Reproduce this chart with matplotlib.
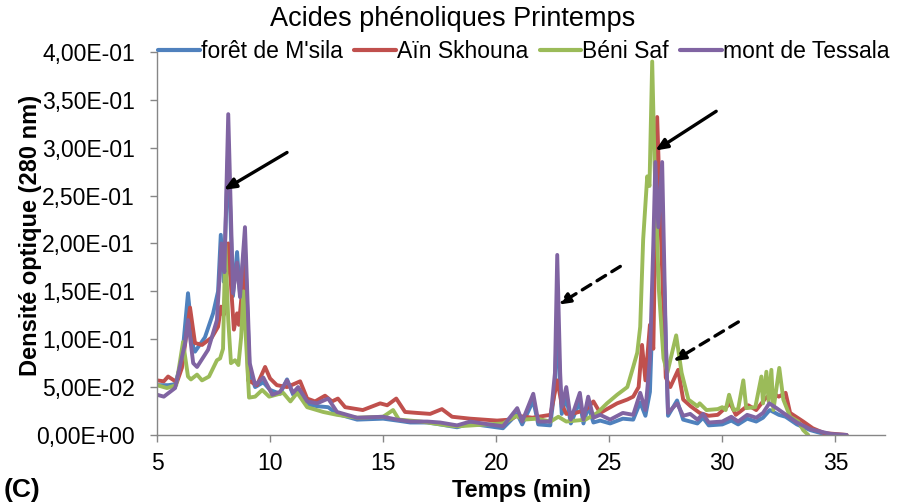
import matplotlib
matplotlib.use("Agg")
import matplotlib.pyplot as plt
from matplotlib.ticker import FuncFormatter

plt.rcParams['font.family'] = ['Liberation Sans', 'DejaVu Sans']

# Chromatogram traces (time in min, optical density at 280 nm)
t_msila = [5.0, 5.5, 5.8, 6.1, 6.37, 6.6, 6.68, 7.12, 7.48, 7.7, 7.82, 7.95, 8.15, 8.36, 8.54,
           8.67, 8.88, 9.1, 9.34, 9.7, 10.0, 10.44, 10.75, 11.02, 11.24, 11.64, 12.08, 12.57,
           12.96, 13.85, 15.0, 15.62, 16.2, 16.95, 17.52, 18.27, 18.85, 19.4, 20.3, 20.93, 21.15,
           21.64, 21.86, 22.39, 22.6, 22.7, 22.83, 22.9, 23.1, 23.3, 23.7, 23.86, 24.07, 24.3,
           24.6, 25.04, 25.6, 26.06, 26.37, 26.6, 26.8, 26.95, 27.2, 27.4, 27.6, 28.0, 28.27,
           28.9, 29.15, 29.4, 30.0, 30.4, 30.7, 31.1, 31.5, 31.8, 32.1, 32.5, 32.8, 33.3, 33.9,
           34.5, 35.0]
d_msila = [0.052, 0.052, 0.053, 0.078, 0.148, 0.092, 0.087, 0.102, 0.127, 0.15, 0.209, 0.16,
           0.30, 0.145, 0.191, 0.148, 0.20, 0.065, 0.05, 0.055, 0.047, 0.043, 0.058, 0.042, 0.047,
           0.032, 0.03, 0.029, 0.022, 0.016, 0.017, 0.015, 0.013, 0.013, 0.011, 0.008, 0.012,
           0.01, 0.007, 0.022, 0.011, 0.036, 0.011, 0.01, 0.05, 0.13, 0.05, 0.022, 0.04, 0.012,
           0.035, 0.012, 0.03, 0.013, 0.015, 0.012, 0.017, 0.016, 0.034, 0.02, 0.045, 0.15,
           0.245, 0.18, 0.02, 0.036, 0.016, 0.012, 0.018, 0.01, 0.011, 0.015, 0.011, 0.017,
           0.014, 0.018, 0.026, 0.021, 0.019, 0.011, 0.005, 0.001, 0.0]

t_skhouna = [5.0, 5.3, 5.49, 5.88, 6.1, 6.46, 6.68, 6.99, 7.43, 7.7, 7.83, 7.95, 8.15, 8.4, 8.54,
             8.62, 8.88, 9.03, 9.42, 9.78, 10.0, 10.3, 10.75, 11.33, 11.64, 11.99, 12.43, 12.74,
             13.0, 13.32, 14.1, 14.87, 15.18, 15.58, 15.97, 16.5, 17.08, 17.6, 18.05, 18.85,
             20.04, 20.6, 20.93, 21.6, 22.4, 22.7, 22.9, 23.1, 23.5, 23.95, 24.3, 24.6, 25.35,
             25.8, 26.06, 26.3, 26.45, 26.6, 26.8, 26.95, 27.12, 27.3, 27.5, 27.7, 28.05, 28.27,
             28.6, 29.0, 29.4, 29.8, 30.35, 30.6, 31.15, 31.5, 31.9, 32.2, 32.5, 32.8, 33.0,
             33.58, 34.0, 34.5, 35.5]
d_skhouna = [0.057, 0.056, 0.061, 0.055, 0.07, 0.133, 0.096, 0.094, 0.102, 0.113, 0.134, 0.125,
             0.2, 0.11, 0.127, 0.115, 0.18, 0.057, 0.052, 0.071, 0.059, 0.052, 0.05, 0.056,
             0.038, 0.035, 0.041, 0.035, 0.038, 0.029, 0.026, 0.033, 0.031, 0.038, 0.024, 0.023,
             0.022, 0.027, 0.019, 0.017, 0.015, 0.016, 0.02, 0.018, 0.021, 0.057, 0.032, 0.022,
             0.023, 0.026, 0.035, 0.023, 0.033, 0.037, 0.04, 0.05, 0.094, 0.057, 0.115, 0.09,
             0.332, 0.2, 0.06, 0.05, 0.068, 0.037, 0.03, 0.023, 0.02, 0.021, 0.033, 0.021, 0.031,
             0.026, 0.038, 0.044, 0.04, 0.044, 0.023, 0.014, 0.007, 0.002, 0.0]

t_benisaf = [5.0, 5.44, 5.85, 6.15, 6.37, 6.5, 6.77, 6.99, 7.3, 7.65, 7.79, 7.92, 8.02, 8.15,
             8.27, 8.45, 8.6, 8.72, 8.82, 9.07, 9.34, 9.65, 9.96, 10.58, 10.9, 11.2, 11.64,
             12.35, 12.96, 13.85, 15.0, 15.44, 15.7, 16.67, 17.83, 18.27, 19.6, 20.3, 20.9, 21.2,
             21.8, 22.4, 22.75, 23.1, 23.95, 24.47, 24.9, 25.35, 25.8, 26.06, 26.24, 26.37, 26.5,
             26.68, 26.78, 26.9, 27.0, 27.2, 27.4, 27.57, 27.96, 28.2, 28.5, 28.9, 29.0, 29.3,
             29.8, 30.0, 30.15, 30.3, 30.5, 30.7, 30.93, 31.06, 31.46, 31.73, 31.8, 31.95, 32.05,
             32.17, 32.26, 32.52, 32.7, 33.0, 33.36, 33.58, 33.8]
d_benisaf = [0.052, 0.049, 0.052, 0.097, 0.061, 0.058, 0.063, 0.057, 0.061, 0.078, 0.08, 0.09,
             0.2, 0.12, 0.075, 0.078, 0.073, 0.102, 0.15, 0.039, 0.04, 0.047, 0.04, 0.044, 0.035,
             0.044, 0.029, 0.024, 0.021, 0.018, 0.019, 0.026, 0.016, 0.014, 0.01, 0.009, 0.011,
             0.012, 0.02, 0.016, 0.017, 0.014, 0.019, 0.014, 0.016, 0.023, 0.033, 0.042, 0.05,
             0.071, 0.086, 0.113, 0.204, 0.27, 0.26, 0.39, 0.287, 0.15, 0.08, 0.065, 0.104, 0.065,
             0.037, 0.03, 0.033, 0.026, 0.027, 0.029, 0.026, 0.042, 0.026, 0.027, 0.057, 0.028,
             0.029, 0.061, 0.033, 0.066, 0.035, 0.068, 0.026, 0.07, 0.037, 0.019, 0.014, 0.005,
             0.0]

t_tessala = [5.0, 5.3, 5.8, 6.24, 6.37, 6.6, 6.77, 7.26, 7.65, 7.85, 7.98, 8.15, 8.36, 8.54,
             8.67, 8.89, 9.1, 9.34, 9.7, 10.1, 10.44, 10.75, 11.02, 11.24, 11.64, 12.08, 12.57,
             12.96, 13.85, 15.0, 15.62, 16.2, 16.95, 17.52, 18.27, 18.85, 19.4, 20.3, 20.93,
             21.15, 21.64, 21.86, 22.39, 22.6, 22.7, 22.83, 22.9, 23.1, 23.3, 23.7, 23.86, 24.07,
             24.3, 24.6, 25.04, 25.6, 26.06, 26.37, 26.6, 26.67, 26.8, 26.95, 27.04, 27.17,
             27.34, 27.5, 27.6, 28.0, 28.27, 28.58, 28.9, 29.15, 29.4, 30.0, 30.4, 30.7, 31.1,
             31.5, 31.8, 32.08, 32.4, 32.7, 33.3, 33.9, 34.8, 35.5]
d_tessala = [0.042, 0.04, 0.049, 0.096, 0.12, 0.075, 0.071, 0.089, 0.12, 0.2, 0.17, 0.335,
             0.148, 0.18, 0.144, 0.217, 0.075, 0.052, 0.06, 0.042, 0.045, 0.057, 0.044, 0.05,
             0.035, 0.033, 0.038, 0.024, 0.018, 0.019, 0.016, 0.014, 0.014, 0.013, 0.01, 0.014,
             0.012, 0.009, 0.028, 0.014, 0.043, 0.014, 0.014, 0.065, 0.188, 0.065, 0.029, 0.05,
             0.016, 0.044, 0.016, 0.04, 0.018, 0.021, 0.016, 0.023, 0.021, 0.044, 0.026, 0.044,
             0.08, 0.2, 0.285, 0.217, 0.285, 0.1, 0.023, 0.033, 0.02, 0.022, 0.016, 0.022, 0.013,
             0.014, 0.019, 0.014, 0.021, 0.018, 0.023, 0.033, 0.028, 0.023, 0.013, 0.006, 0.001,
             0.0]

series_names = ["forêt de M'sila", "Aïn Skhouna", "Béni Saf", "mont de Tessala"]
series_colors = ["#4F81BD", "#C0504D", "#9BBB59", "#8064A2"]

y_ticks = [0.0, 0.05, 0.10, 0.15, 0.20, 0.25, 0.30, 0.35, 0.40]
x_ticks = [5, 10, 15, 20, 25, 30, 35]

# Arrows pointing at the marked peaks: (tail, head, dashed)
arrows = [((10.75, 0.295), (7.96, 0.256), False),
          ((29.73, 0.338), (27.04, 0.297), False),
          ((25.49, 0.176), (22.74, 0.136), True),
          ((30.71, 0.118), (27.83, 0.077), True)]

fig = plt.figure(figsize=(9.05, 5.04), dpi=100)
ax = fig.add_axes([0.1735, 0.137, 0.8045, 0.760])

data = [(t_msila, d_msila), (t_skhouna, d_skhouna), (t_benisaf, d_benisaf), (t_tessala, d_tessala)]
for (t, d), name, col in zip(data, series_names, series_colors):
    ax.plot(t, d, color=col, lw=2.8, label=name, solid_joinstyle='round', solid_capstyle='round')

for tail, head, dashed in arrows:
    ax.annotate("", xy=head, xytext=tail,
                arrowprops=dict(arrowstyle="-|>,head_length=0.7,head_width=0.3",
                                color="black", lw=2.4,
                                linestyle=(0, (3, 2.2)) if dashed else "-",
                                shrinkA=0, shrinkB=0))

ax.set_xlim(5, 37.2)
ax.set_ylim(0, 0.40)
ax.set_xticks(x_ticks)
ax.set_yticks(y_ticks)
ax.yaxis.set_major_formatter(FuncFormatter(lambda v, p: f"{v:.2E}".replace('.', ',')))

for s in ["top", "right"]:
    ax.spines[s].set_visible(False)
for s in ["left", "bottom"]:
    ax.spines[s].set_color("#868686")
    ax.spines[s].set_linewidth(1.0)
ax.tick_params(axis='both', colors="#868686", length=5, width=1.0, labelsize=16.5,
               labelcolor="black", direction="out")
ax.tick_params(axis='x', pad=7)
ax.tick_params(axis='y', pad=11)

ax.set_ylabel("Densité optique (280 nm)", fontsize=17, fontweight="bold", labelpad=2)
ax.yaxis.set_label_coords(-0.158, 0.52)
fig.text(0.576, 0.027, "Temps (min)", ha="center", va="center", fontsize=17, fontweight="bold")
fig.text(0.5, 0.963, "Acides phénoliques Printemps", ha="center", va="center", fontsize=19.5)
fig.text(0.004, 0.027, "(C)", ha="left", va="center", fontsize=19, fontweight="bold")

leg = ax.legend(loc="center", bbox_to_anchor=(0.504, 1.0), ncol=4, frameon=False,
                fontsize=16.5, handlelength=1.8, handletextpad=0.06, columnspacing=0.5,
                borderaxespad=0)
for h in leg.get_lines():
    h.set_linewidth(3.0)

fig.savefig("out.png", dpi=100)
